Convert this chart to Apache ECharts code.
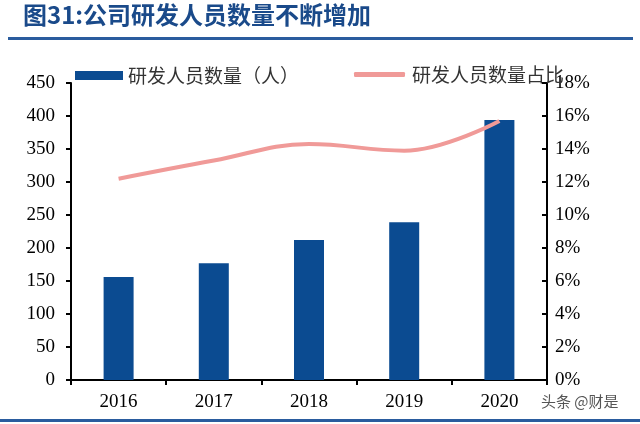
<!DOCTYPE html>
<html>
<head>
<meta charset="utf-8">
<script src="https://cdn.jsdelivr.net/npm/echarts@6/dist/echarts.min.js"></script>
<style>html,body{margin:0;padding:0;background:#fff;}#c{width:640px;height:424px;}</style>
</head>
<body>
<div id="c"></div>
<script>
var categories = ['2016', '2017', '2018', '2019', '2020'];
var staffCount = [156, 177, 212, 239, 394];
var staffShare = [12.2, 13.3, 14.3, 13.9, 15.7];
var leftTicks = {min: 0, max: 450, interval: 50};
var rightTicks = {min: 0, max: 18, interval: 2};
var titleText = '图31:公司研发人员数量不断增加';
var barName = '研发人员数量（人）';
var lineName = '研发人员数量占比';
var watermark = '头条 @财是';

var chart = echarts.init(document.getElementById('c'));
var serif = 'Liberation Serif';
var cjk = 'Noto Sans CJK SC';
chart.setOption({
  backgroundColor: '#fff',
  animation: false,
  grid: {left: 71, right: 93, top: 83, bottom: 44},
  legend: [
    {data: [barName], left: 70, top: 61, itemWidth: 48, itemHeight: 9, itemGap: 0,
     icon: 'rect', textStyle: {fontFamily: cjk, fontSize: 19, color: '#333', padding: [0, 0, 0, 0]}},
    {data: [lineName], left: 349, top: 60, itemWidth: 51, itemHeight: 5, icon: 'roundRect',
     textStyle: {fontFamily: cjk, fontSize: 19, color: '#333', padding: [0, 0, 0, 2]}}
  ],
  xAxis: {
    type: 'category', data: categories, boundaryGap: true,
    axisLine: {lineStyle: {color: '#000', width: 2}},
    axisTick: {show: true, length: 5, lineStyle: {color: '#000', width: 2}},
    axisLabel: {fontFamily: serif, fontSize: 19, color: '#000', margin: 13}
  },
  yAxis: [
    {type: 'value', min: leftTicks.min, max: leftTicks.max, interval: leftTicks.interval,
     splitLine: {show: false},
     axisLine: {show: true, lineStyle: {color: '#000', width: 2}},
     axisTick: {show: true, length: 5, lineStyle: {color: '#000', width: 2}},
     axisLabel: {fontFamily: serif, fontSize: 19, color: '#000', margin: 16}},
    {type: 'value', min: rightTicks.min, max: rightTicks.max, interval: rightTicks.interval,
     position: 'right', splitLine: {show: false},
     axisLine: {show: true, lineStyle: {color: '#000', width: 2}},
     axisTick: {show: true, inside: true, length: 5, lineStyle: {color: '#000', width: 2}},
     axisLabel: {fontFamily: serif, fontSize: 19, color: '#000', margin: 8, formatter: '{value}%'}}
  ],
  series: [
    {name: barName, type: 'bar', data: staffCount, barWidth: 30, yAxisIndex: 0,
     itemStyle: {color: '#0B4B91'}},
    {name: lineName, type: 'line', data: staffShare, yAxisIndex: 1, smooth: 0.4,
     showSymbol: false, symbol: 'none',
     lineStyle: {color: '#F09A98', width: 4}, itemStyle: {color: '#F09A98'}}
  ],
  graphic: [
    {type: 'text', left: 23, top: 3, style: {text: titleText, font: 'bold 24px "Noto Sans CJK SC"', fill: '#1A4A8A'}},
    {type: 'rect', shape: {x: 8, y: 37, width: 625, height: 3}, style: {fill: '#2A5C9E'}},
    {type: 'rect', shape: {x: 0, y: 419, width: 640, height: 3}, style: {fill: '#2A5C9E'}},
    {type: 'text', left: 541, top: 394, style: {text: watermark, font: '15px "Noto Sans CJK SC"', fill: '#555'}}
  ]
});
</script>
</body>
</html>
